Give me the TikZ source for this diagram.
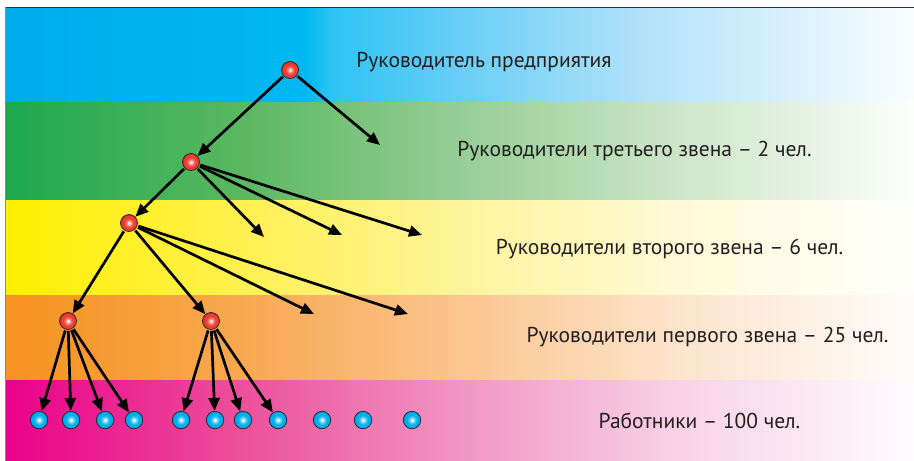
\documentclass[tikz,border=0pt]{standalone}
\usepackage{fontspec}
\setmainfont{PT Sans}
\usetikzlibrary{arrows.meta}
% band colours
\definecolor{bA}{RGB}{0,172,236}\definecolor{bB}{RGB}{0,184,240}\definecolor{bC}{RGB}{45,196,245}
\definecolor{bD}{RGB}{105,206,246}\definecolor{bE}{RGB}{178,226,249}\definecolor{bF}{RGB}{250,253,255}
\definecolor{gA}{RGB}{28,168,80}\definecolor{gB}{RGB}{90,184,96}\definecolor{gC}{RGB}{150,205,150}
\definecolor{gD}{RGB}{205,230,200}\definecolor{gF}{RGB}{252,254,252}
\definecolor{yA}{RGB}{255,240,0}\definecolor{yB}{RGB}{255,240,80}\definecolor{yC}{RGB}{255,244,155}
\definecolor{yD}{RGB}{254,250,215}\definecolor{yF}{RGB}{255,255,253}
\definecolor{oA}{RGB}{246,146,30}\definecolor{oB}{RGB}{248,168,80}\definecolor{oC}{RGB}{251,197,142}
\definecolor{oD}{RGB}{253,228,205}\definecolor{oF}{RGB}{254,252,250}
\definecolor{pA}{RGB}{234,0,138}\definecolor{pB}{RGB}{236,80,155}\definecolor{pC}{RGB}{241,150,196}
\definecolor{pD}{RGB}{248,210,230}\definecolor{pF}{RGB}{254,252,254}
\definecolor{txt}{RGB}{35,31,32}
\definecolor{rHi}{RGB}{255,245,240}\definecolor{rPk}{RGB}{248,150,140}\definecolor{rMid}{RGB}{238,62,50}\definecolor{rEdge}{RGB}{205,35,30}
\definecolor{cHi}{RGB}{245,252,255}\definecolor{cPk}{RGB}{130,215,245}\definecolor{cMid}{RGB}{0,176,236}\definecolor{cEdge}{RGB}{0,140,200}
\pgfdeclarehorizontalshading{blueband}{100bp}{color(0bp)=(bA); color(25bp)=(bA); color(41.5bp)=(bB); color(43bp)=(bC); color(50bp)=(bD); color(60bp)=(bE); color(75bp)=(bF); color(100bp)=(bF)}
\pgfdeclarehorizontalshading{greenband}{100bp}{color(0bp)=(gA); color(25bp)=(gA); color(38bp)=(gB); color(50bp)=(gC); color(62bp)=(gD); color(75bp)=(gF); color(100bp)=(gF)}
\pgfdeclarehorizontalshading{yellowband}{100bp}{color(0bp)=(yA); color(25bp)=(yA); color(38bp)=(yB); color(50bp)=(yC); color(62bp)=(yD); color(75bp)=(yF); color(100bp)=(yF)}
\pgfdeclarehorizontalshading{orangeband}{100bp}{color(0bp)=(oA); color(25bp)=(oA); color(38bp)=(oB); color(50bp)=(oC); color(62bp)=(oD); color(75bp)=(oF); color(100bp)=(oF)}
\pgfdeclarehorizontalshading{pinkband}{100bp}{color(0bp)=(pA); color(25bp)=(pA); color(38bp)=(pB); color(50bp)=(pC); color(62bp)=(pD); color(75bp)=(pF); color(100bp)=(pF)}
\pgfdeclareradialshading{redball}{\pgfpoint{0bp}{0bp}}{color(0bp)=(rHi); color(2bp)=(rHi); color(6bp)=(rPk); color(14bp)=(rMid); color(21bp)=(rMid); color(25bp)=(rEdge); color(50bp)=(rEdge)}
\pgfdeclareradialshading{cyanball}{\pgfpoint{0bp}{0bp}}{color(0bp)=(cHi); color(2bp)=(cHi); color(6bp)=(cPk); color(14bp)=(cMid); color(21bp)=(cMid); color(25bp)=(cEdge); color(50bp)=(cEdge)}
\tikzset{
  mgr/.style={circle, minimum size=17pt, inner sep=0pt, draw=black!85, line width=0.7pt, shading=redball},
  wrk/.style={circle, minimum size=17.5pt, inner sep=0pt, draw=black!85, line width=0.7pt, shading=cyanball},
  arr/.style={line width=2.7pt, -{Triangle[length=13pt,width=11pt]}, shorten <=1pt},
  lbl/.style={anchor=base, text=txt, font=\fontsize{21.5}{25}\selectfont, inner sep=0pt},
}
\begin{document}
\begin{tikzpicture}[x=1pt,y=-1pt]
\useasboundingbox (0,0) rectangle (914,461);
% bands
\shade[shading=blueband]   (5,7.5) rectangle (914,102.5);
\shade[shading=greenband]  (5,102) rectangle (914,200.5);
\shade[shading=yellowband] (5,200) rectangle (914,295.5);
\shade[shading=orangeband] (5,295) rectangle (914,380.5);
\shade[shading=pinkband]   (5,380) rectangle (914,461);
% frame
\draw[black!80, line width=0.9pt] (5,7) -- (914,7);
\draw[black!45, line width=0.9pt] (5,7) -- (5,461);
% labels
\node[lbl] (t1) at (484,67) {Руководитель предприятия};
\node[lbl] (t2) at (634.5,156) {Руководители третьего звена – 2 чел.};
\node[lbl] (t3) at (669.5,254) {Руководители второго звена – 6 чел.};
\node[lbl] (t4) at (707.5,342) {Руководители первого звена – 25 чел.};
\node[lbl] (t5) at (699.5,428) {Работники – 100 чел.};
% managers
\node[mgr] (r)  at (290,70) {};
\node[mgr] (a)  at (191,162) {};
\node[mgr] (b)  at (129,223) {};
\node[mgr] (c1) at (68,321) {};
\node[mgr] (c2) at (211,321) {};
% workers
\foreach \i/\x in {1/39,2/71,3/105,4/134,5/181,6/215,7/243,8/278,9/322,10/363,11/412}
  \node[wrk] (w\i) at (\x,420) {};
% free ends
\coordinate (f1) at (380,145);
\coordinate (f2) at (264,237);
\coordinate (f3) at (342,235);
\coordinate (f4) at (422,235);
\coordinate (f5) at (314,314);
\coordinate (f6) at (408,314);
% arrows
\draw[arr] (r) -- (a);
\draw[arr] (r) -- (f1);
\draw[arr] (a) -- (b);
\foreach \t in {f2,f3,f4} \draw[arr] (a) -- (\t);
\draw[arr] (b) -- (c1);
\draw[arr] (b) -- (c2);
\foreach \t in {f5,f6} \draw[arr] (b) -- (\t);
\foreach \t in {1,2,3,4} \draw[arr] (c1) -- (w\t);
\foreach \t in {5,6,7,8} \draw[arr] (c2) -- (w\t);
\end{tikzpicture}
\end{document}
